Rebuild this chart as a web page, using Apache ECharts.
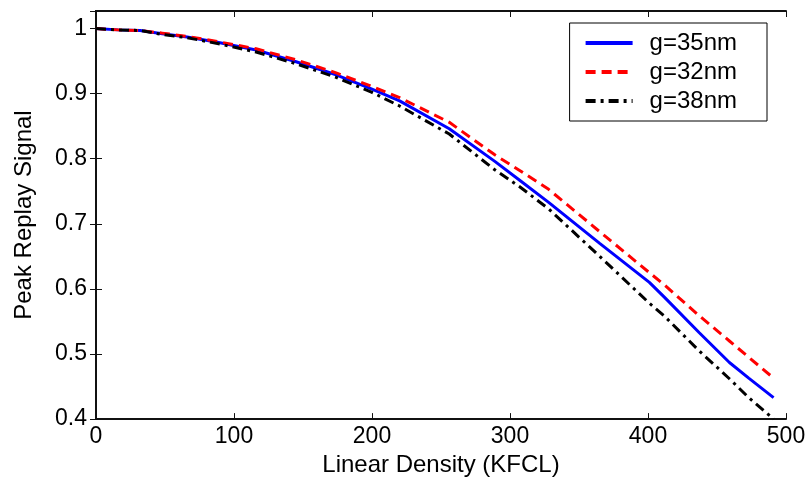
<!DOCTYPE html>
<html>
<head>
<meta charset="utf-8">
<script src="https://cdn.jsdelivr.net/npm/echarts@6/dist/echarts.min.js"></script>
<style>html,body{margin:0;padding:0;background:#fff;}#c{width:809px;height:482px;}</style>
</head>
<body>
<div id="c"></div>
<script>
var density = [0, 16, 32, 48, 66, 88, 116, 145, 174, 200, 220, 256, 289, 307, 328, 365, 401, 412, 437, 459, 473, 491];
var g35 = [1.000, 0.998, 0.997, 0.992, 0.987, 0.979, 0.967, 0.949, 0.929, 0.907, 0.889, 0.846, 0.796, 0.767, 0.733, 0.670, 0.610, 0.587, 0.533, 0.487, 0.463, 0.433];
var g32 = [1.000, 0.998, 0.997, 0.993, 0.988, 0.980, 0.969, 0.952, 0.932, 0.911, 0.894, 0.856, 0.806, 0.782, 0.753, 0.688, 0.625, 0.606, 0.559, 0.520, 0.495, 0.463];
var g38 = [1.000, 0.998, 0.997, 0.991, 0.986, 0.977, 0.964, 0.946, 0.925, 0.902, 0.881, 0.838, 0.783, 0.757, 0.723, 0.650, 0.578, 0.558, 0.505, 0.462, 0.433, 0.400];
var seriesNames = ['g=35nm', 'g=32nm', 'g=38nm'];
var xTicks = [0, 100, 200, 300, 400, 500];
var yTicks = [0.4, 0.5, 0.6, 0.7, 0.8, 0.9, 1];

function pairs(xs, ys) { return xs.map(function (x, i) { return [x, ys[i]]; }); }

var FONT = 'Liberation Sans';
var chart = echarts.init(document.getElementById('c'), null, {renderer: 'canvas'});
var axisLine = {show: true, lineStyle: {color: '#111', width: 2}};
var tickIn = {show: true, inside: true, length: 6, lineStyle: {color: '#111', width: 1}};

chart.setOption({
  animation: false,
  backgroundColor: '#fff',
  textStyle: {fontFamily: FONT},
  grid: {left: 96, right: 23, top: 11, bottom: 56, containLabel: false},
  legend: {
    orient: 'vertical',
    right: 42, top: 23,
    data: seriesNames,
    backgroundColor: '#fff',
    borderColor: '#000', borderWidth: 1,
    padding: [8, 30, 8, 14],
    itemWidth: 47, itemHeight: 21, itemGap: 5,
    itemStyle: {opacity: 0},
    lineStyle: {width: 4},
    textStyle: {fontFamily: FONT, fontSize: 24, color: '#000', padding: [0, 0, 0, 12]}
  },
  xAxis: [{
    type: 'value', min: xTicks[0], max: xTicks[xTicks.length - 1], interval: 100,
    position: 'bottom',
    name: 'Linear Density (KFCL)', nameLocation: 'middle', nameGap: 27,
    nameTextStyle: {fontFamily: FONT, fontSize: 24, color: '#000'},
    axisLine: axisLine, axisTick: tickIn,
    axisLabel: {fontFamily: FONT, fontSize: 23, color: '#000', margin: 6},
    splitLine: {show: false}
  }, {
    type: 'value', min: xTicks[0], max: xTicks[xTicks.length - 1], interval: 100,
    position: 'top',
    axisLine: axisLine, axisTick: tickIn, axisLabel: {show: false}, splitLine: {show: false}
  }],
  yAxis: [{
    type: 'value', min: yTicks[0], max: 1.027, interval: 0.1,
    position: 'left',
    name: 'Peak Replay Signal', nameLocation: 'middle', nameGap: 60,
    nameTextStyle: {fontFamily: FONT, fontSize: 24, color: '#000'},
    axisLine: axisLine, axisTick: tickIn,
    axisLabel: {
      fontFamily: FONT, fontSize: 23, color: '#000', margin: 9,
      formatter: function (v) {
        for (var i = 0; i < yTicks.length; i++) {
          if (Math.abs(v - yTicks[i]) < 1e-6) return yTicks[i] === 1 ? '1' : yTicks[i].toFixed(1);
        }
        return '';
      }
    },
    splitLine: {show: false}
  }, {
    type: 'value', min: yTicks[0], max: 1.027, interval: 0.1,
    position: 'right',
    axisLine: axisLine, axisTick: tickIn, axisLabel: {show: false}, splitLine: {show: false}
  }],
  series: [{
    name: seriesNames[0], type: 'line', data: pairs(density, g35), symbol: 'none',
    lineStyle: {color: '#0000ff', width: 3, type: 'solid'}, itemStyle: {color: '#0000ff'}, z: 3
  }, {
    name: seriesNames[1], type: 'line', data: pairs(density, g32), symbol: 'none',
    lineStyle: {color: '#ff0000', width: 3, type: [10, 6]}, itemStyle: {color: '#ff0000'}, z: 4
  }, {
    name: seriesNames[2], type: 'line', data: pairs(density, g38), symbol: 'none',
    lineStyle: {color: '#000000', width: 3, type: [10, 5, 3, 5]}, itemStyle: {color: '#000000'}, z: 5
  }]
});
</script>
</body>
</html>
